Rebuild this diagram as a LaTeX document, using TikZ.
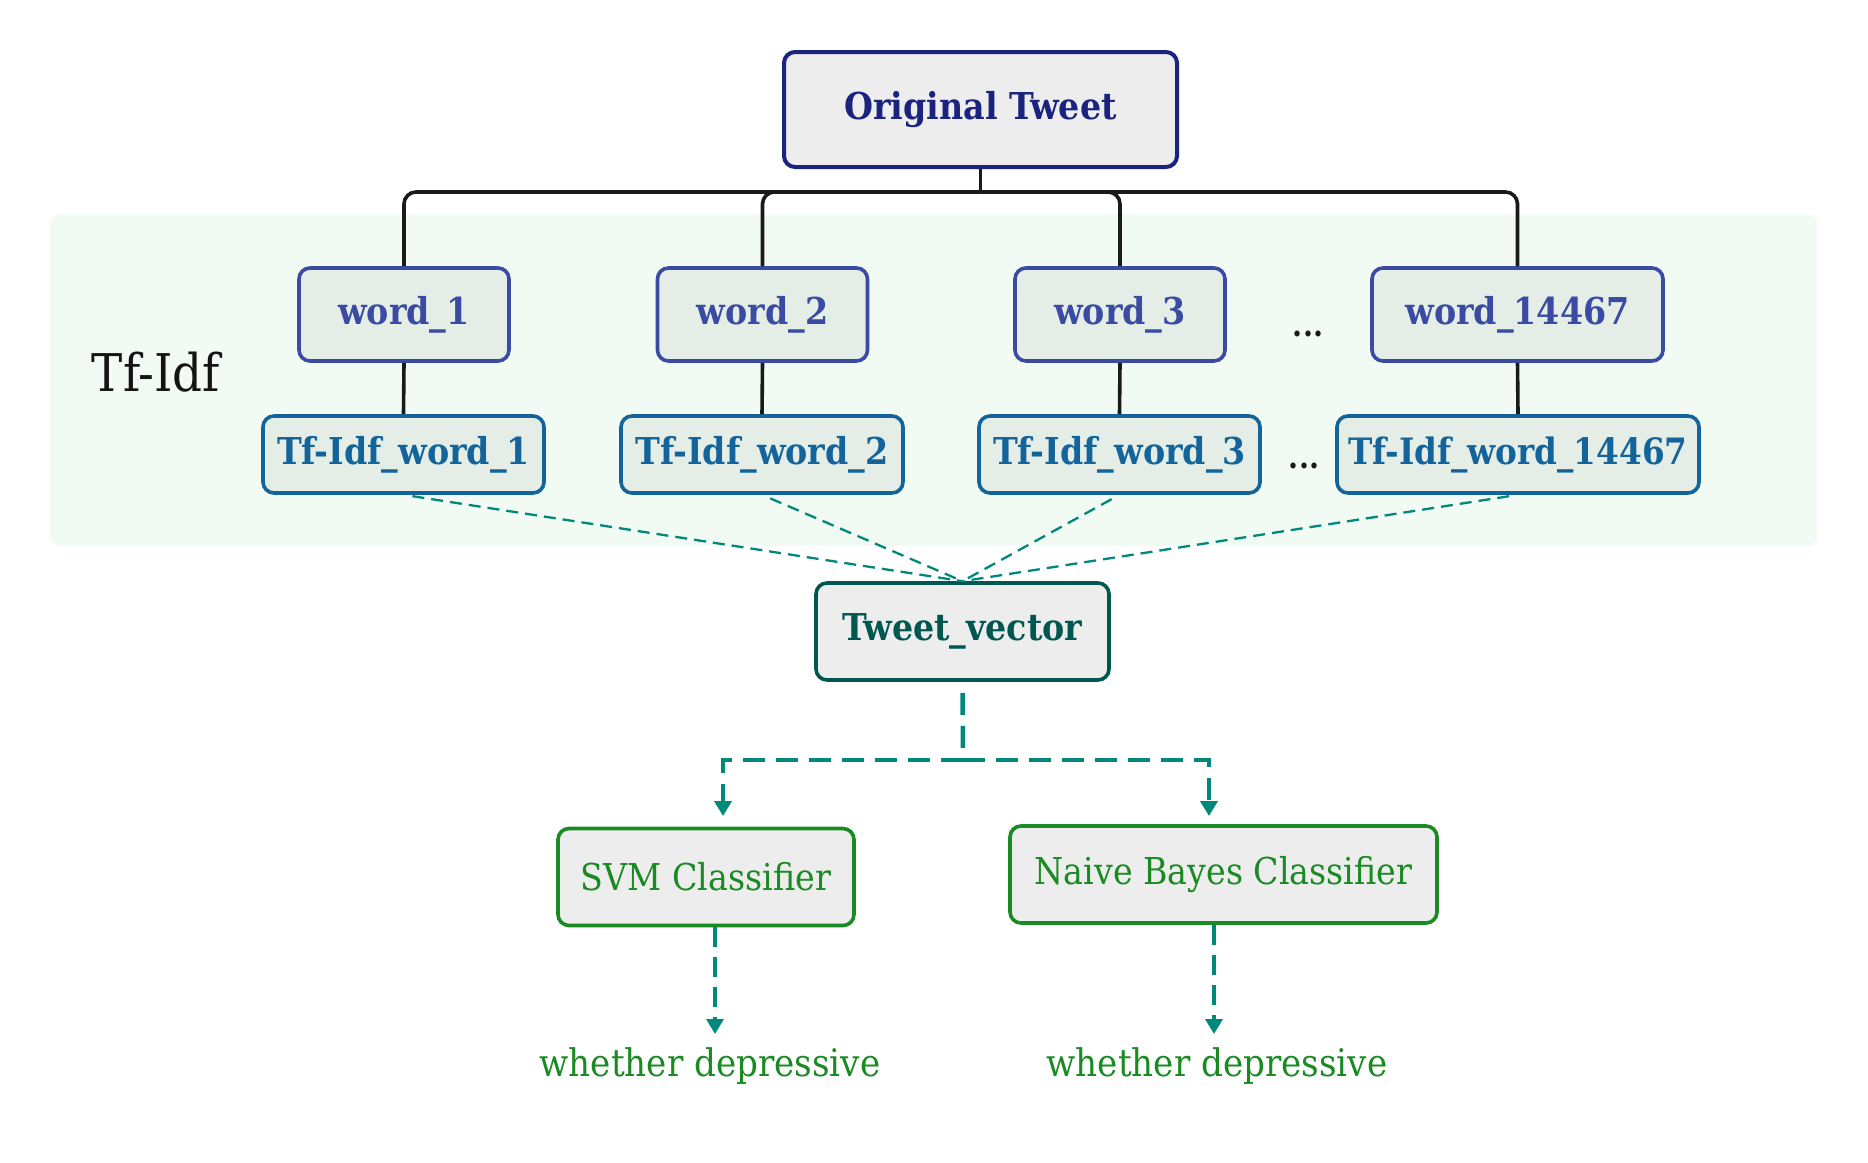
\documentclass[tikz,border=0pt]{standalone}
\usepackage{fontspec}
\setmainfont{DejaVu Serif Condensed}
\usetikzlibrary{arrows.meta}
\definecolor{otc}{HTML}{1A237E}
\definecolor{wc}{HTML}{3A4BA3}
\definecolor{tc}{HTML}{12649B}
\definecolor{tvc}{HTML}{00574F}
\definecolor{tealc}{HTML}{00897B}
\definecolor{grc}{HTML}{1A8A22}
\definecolor{fillA}{HTML}{EDEDED}
\definecolor{fillB}{HTML}{E4EDE6}
\definecolor{bgc}{HTML}{F1FBF4}
\definecolor{linec}{HTML}{1A1A1A}
\begin{document}
\begin{tikzpicture}[x=1pt,y=-1pt,
  box/.style={draw, rounded corners=11pt, line width=3.6pt, inner sep=0pt, align=center},
  bfont/.style={font=\fontsize{37}{42}\selectfont\bfseries},
  otbox/.style={box, bfont, draw=otc, fill=fillA, text=otc, line width=4pt, minimum width=393pt, minimum height=115pt},
  wordbox/.style={box, bfont, draw=wc, fill=fillB, text=wc, minimum height=93pt},
  tfbox/.style={box, bfont, draw=tc, fill=fillB, text=tc, minimum height=77pt},
  tvbox/.style={box, bfont, draw=tvc, fill=fillA, text=tvc, minimum width=293pt, minimum height=97pt},
  clbox/.style={box, draw=grc, fill=fillA, text=grc, minimum height=97pt, font=\fontsize{37}{42}\selectfont},
  restext/.style={text=grc, inner sep=0pt, font=\fontsize{38}{42}\selectfont},
  dotstext/.style={text=linec, inner sep=0pt, font=\fontsize{32}{36}\selectfont\bfseries},
  conn/.style={draw=linec, line width=3.6pt},
  thindash/.style={draw=tealc, line width=2.3pt, dash pattern=on 12pt off 7pt},
  thickdash/.style={draw=tealc, line width=4.5pt, dash pattern=on 22pt off 11pt},
  meddash/.style={draw=tealc, line width=3.4pt, dash pattern=on 20pt off 10pt},
  arr/.style={-{Triangle[width=17pt,length=15pt]}}
]
\useasboundingbox (0,0) rectangle (1868,1162);
\fill[bgc, rounded corners=10pt] (50,214) rectangle (1817,546);

\node[text=black!92, inner sep=0pt, font=\fontsize{52}{58}\selectfont] (lbl) at (156,372) {Tf-Idf};

\node[otbox] (ot) at (980.5,109.5) {Original Tweet};

\node[wordbox, minimum width=210pt] (w1) at (404,314.5) {word\_1};
\node[wordbox, minimum width=210pt] (w2) at (762.5,314.5) {word\_2};
\node[wordbox, minimum width=210pt] (w3) at (1120,314.5) {word\_3};
\node[wordbox, minimum width=291pt] (w4) at (1517.5,314.5) {word\_14467};
\node[dotstext] (d1) at (1308,334) {...};

\node[tfbox, minimum width=281pt] (t1) at (403.5,454.5) {Tf-Idf\_word\_1};
\node[tfbox, minimum width=282pt] (t2) at (762,454.5) {Tf-Idf\_word\_2};
\node[tfbox, minimum width=281pt] (t3) at (1119.5,454.5) {Tf-Idf\_word\_3};
\node[tfbox, minimum width=362pt, font=\fontsize{36.3}{42}\selectfont\bfseries] (t4) at (1518,454.5) {Tf-Idf\_word\_14467};
\node[dotstext] (d2) at (1304,466) {...};

\node[tvbox] (tv) at (962.5,631.5) {Tweet\_vector};

\node[clbox, minimum width=296pt] (svm) at (706,877) {SVM Classifier};
\node[clbox, minimum width=427pt] (nb) at (1223.5,874.5) {Naive Bayes Classifier};

\node[restext] (r1) at (710,1066) {whether depressive};
\node[restext] (r2) at (1217,1066) {whether depressive};

% tree connectors
\coordinate (jn) at (980.5,192);
\draw[conn] (ot.south) -- (jn);
\foreach \w in {w1,w2,w3,w4} \draw[conn, rounded corners=12pt] (jn) -| (\w.north);
\draw[conn] (w1.south) -- (t1.north);
\draw[conn] (w2.south) -- (t2.north);
\draw[conn] (w3.south) -- (t3.north);
\draw[conn] (w4.south) -- (t4.north);

% tf-idf to vector
\foreach \t in {t1,t2,t3,t4} \draw[thindash, shorten <=9pt] (\t.south) -- (tv.north);

% vector to classifiers
\coordinate (split) at (963,760);
\coordinate (svmin) at (723,816);
\coordinate (nbin) at (1209,816);
\draw[thickdash, shorten <=11pt] (tv.south) -- (split);
\draw[thickdash, arr] (split) -| (svmin);
\draw[thickdash, arr] (split) -| (nbin);

% classifiers to results
\coordinate (r1in) at (715,1034);
\coordinate (r2in) at (1214,1034);
\draw[meddash, arr] (svm.south -| r1in) -- (r1in);
\draw[meddash, arr] (nb.south -| r2in) -- (r2in);
\end{tikzpicture}
\end{document}
